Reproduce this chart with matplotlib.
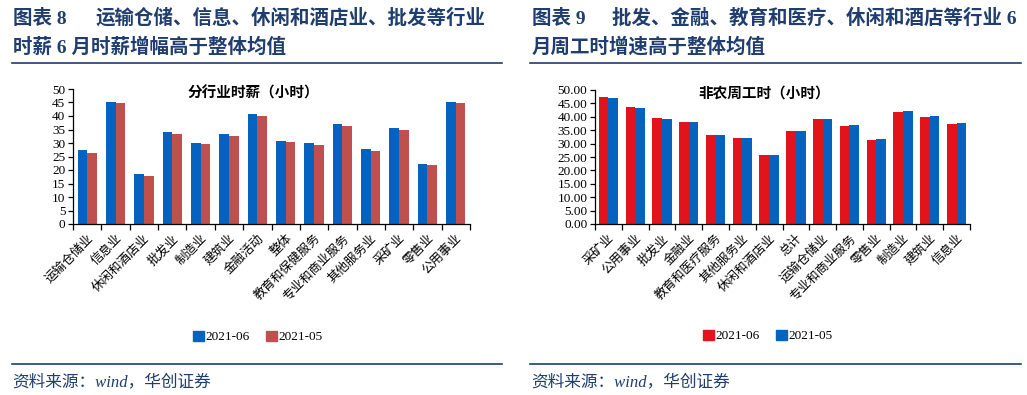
import matplotlib
matplotlib.use("Agg")
import matplotlib.pyplot as plt
from matplotlib.patches import Patch
from matplotlib.lines import Line2D
import numpy as np

plt.rcParams['font.family'] = ['Liberation Serif', 'Noto Sans CJK SC']

# ---- data: left chart (hourly wage by industry) ----
cats_left = ["运输仓储业", "信息业", "休闲和酒店业", "批发业", "制造业", "建筑业", "金融活动",
             "整体", "教育和保健服务", "专业和商业服务", "其他服务业", "采矿业", "零售业", "公用事业"]
wage_2021_06 = [27.5, 45.3, 18.6, 34.2, 30.1, 33.5, 40.9, 30.9, 30.1, 37.2, 27.9, 35.7, 22.3, 45.3]
wage_2021_05 = [26.4, 44.7, 17.9, 33.5, 29.8, 32.7, 40.1, 30.5, 29.4, 36.4, 27.2, 34.9, 22.0, 44.7]
left_yticks = [0, 5, 10, 15, 20, 25, 30, 35, 40, 45, 50]

# ---- data: right chart (weekly hours) ----
cats_right = ["采矿业", "公用事业", "批发业", "金融业", "教育和医疗服务", "其他服务业", "休闲和酒店业",
              "总计", "运输仓储业", "专业和商业服务", "零售业", "制造业", "建筑业", "信息业"]
hours_2021_06 = [47.4, 43.7, 39.6, 38.1, 33.3, 32.1, 25.8, 34.7, 39.2, 36.6, 31.4, 41.8, 39.9, 37.3]
hours_2021_05 = [46.9, 43.2, 39.2, 38.1, 33.3, 32.1, 25.8, 34.7, 39.2, 37.0, 31.8, 42.2, 40.3, 37.7]
right_yticks = [0, 5, 10, 15, 20, 25, 30, 35, 40, 45, 50]

series_names = ["2021-06", "2021-05"]

W, H = 1027, 395
fig = plt.figure(figsize=(W / 100, H / 100), dpi=100)

NAVY = "#1F3D6E"
BLUE = "#0563BF"
RED_L = "#C0504D"
RED_R = "#E3131B"

def fx(px):
    return px / W

def fy(py):
    return 1 - py / H

def setup_axes(ax, cats, yticks, fmt):
    n = len(cats)
    ax.set_xlim(-0.5, n - 0.5)
    ax.set_ylim(0, 50)
    for s in ["top", "right"]:
        ax.spines[s].set_visible(False)
    for s in ["left", "bottom"]:
        ax.spines[s].set_linewidth(0.9)
        ax.spines[s].set_color("black")
    ax.set_yticks(yticks)
    ax.set_yticklabels([fmt.format(v) for v in yticks], fontsize=9.5)
    ax.tick_params(axis='y', direction='out', length=3.5, width=0.9, pad=2)
    ax.set_xticks(np.arange(n))
    ax.set_xticklabels(cats, rotation=45, ha='right', rotation_mode='anchor', fontsize=9)
    ax.tick_params(axis='x', which='major', length=0, pad=6)
    ax.set_xticks(np.arange(n + 1) - 0.5, minor=True)
    ax.tick_params(axis='x', which='minor', direction='out', length=4, width=0.9)

# ---- left chart ----
axL = fig.add_axes([fx(73), fy(224), fx(470) - fx(73), fy(89) - fy(224)])
x = np.arange(len(cats_left))
bw = 0.34
axL.bar(x - bw / 2, wage_2021_06, bw, color=BLUE, edgecolor='none')
axL.bar(x + bw / 2, wage_2021_05, bw, color=RED_L, edgecolor='none')
setup_axes(axL, cats_left, left_yticks, "{:d}")
axL.legend(handles=[Patch(color=BLUE, label=series_names[0]), Patch(color=RED_L, label=series_names[1])],
           loc='center', bbox_to_anchor=(fx(258), fy(337)), bbox_transform=fig.transFigure,
           ncol=2, frameon=False, fontsize=9.5, handlelength=0.8, handleheight=0.8,
           handletextpad=0.15, columnspacing=1.2)

# ---- right chart ----
axR = fig.add_axes([fx(595), fy(224), fx(970) - fx(595), fy(90) - fy(224)])
x = np.arange(len(cats_right))
bw = 0.36
axR.bar(x - bw / 2, hours_2021_06, bw, color=RED_R, edgecolor='none')
axR.bar(x + bw / 2, hours_2021_05, bw, color=BLUE, edgecolor='none')
setup_axes(axR, cats_right, right_yticks, "{:.2f}")
axR.legend(handles=[Patch(color=RED_R, label=series_names[0]), Patch(color=BLUE, label=series_names[1])],
           loc='center', bbox_to_anchor=(fx(768), fy(336)), bbox_transform=fig.transFigure,
           ncol=2, frameon=False, fontsize=9.5, handlelength=0.8, handleheight=0.8,
           handletextpad=0.15, columnspacing=1.2)

# ---- chart titles ----
fig.text(fx(253), fy(93), "分行业时薪（小时）", ha='center', va='center', fontsize=10.5,
         fontweight='bold', family=['Noto Sans CJK SC'])
fig.text(fx(764), fy(93), "非农周工时（小时）", ha='center', va='center', fontsize=10.5,
         fontweight='bold', family=['Noto Sans CJK SC'])

# ---- panel headings ----
tkw = dict(fontsize=14, fontweight='bold', color=NAVY, va='center', ha='left')
fig.text(fx(13), fy(18), "图表 8", **tkw)
fig.text(fx(95), fy(18), "运输仓储、信息、休闲和酒店业、批发等行业", **tkw)
fig.text(fx(13), fy(47), "时薪 6 月时薪增幅高于整体均值", **tkw)
fig.text(fx(532), fy(18), "图表 9", **tkw)
fig.text(fx(612), fy(18), "批发、金融、教育和医疗、休闲和酒店等行业 6", **tkw)
fig.text(fx(532), fy(47), "月周工时增速高于整体均值", **tkw)

# ---- rules ----
for (x0, x1) in [(12, 502), (530, 1021)]:
    fig.add_artist(Line2D([fx(x0), fx(x1)], [fy(62.5), fy(62.5)], color=NAVY, lw=1.2))
    fig.add_artist(Line2D([fx(x0), fx(x1)], [fy(364), fy(364)], color=NAVY, lw=1.2))

# ---- sources ----
skw = dict(fontsize=12, color=NAVY, va='center', ha='left', style='italic')
fig.text(fx(12), fy(382), "资料来源：wind，华创证券", **skw)
fig.text(fx(531), fy(382), "资料来源：wind，华创证券", **skw)

fig.savefig("out.png", dpi=100)
